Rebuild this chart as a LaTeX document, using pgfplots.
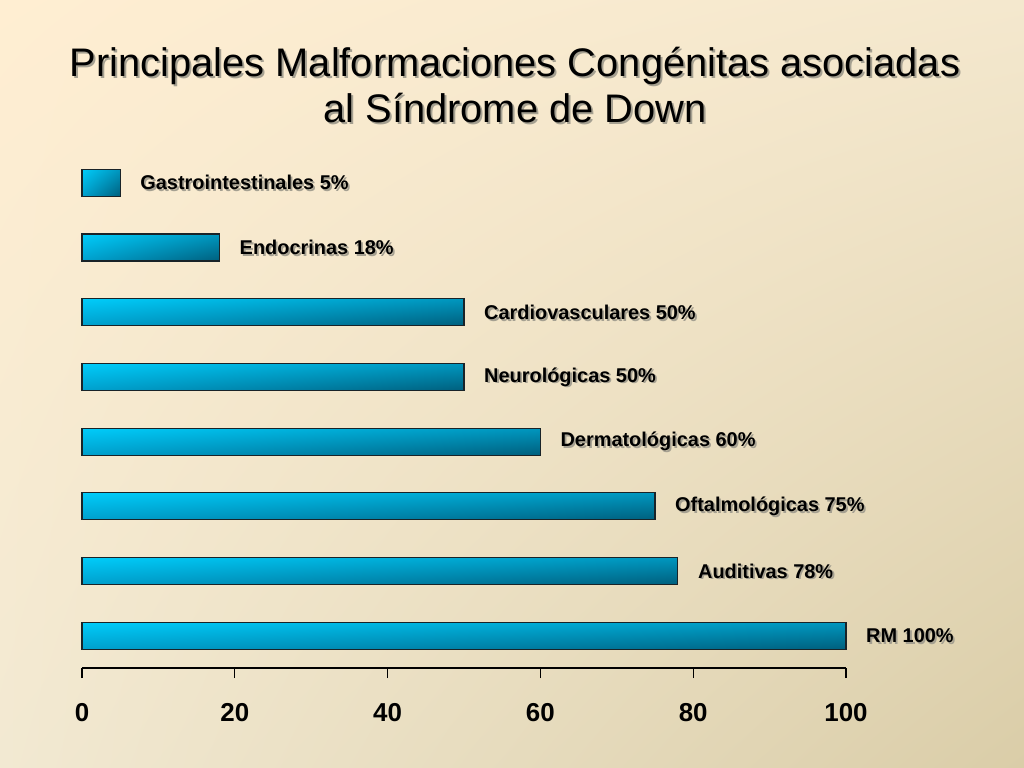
\documentclass[border=0pt]{standalone}
\usepackage{fontspec}
\setmainfont{Liberation Sans}
\usepackage{pgfplots}
\usepackage{pgfplotstable}
\pgfplotsset{compat=1.18}
\usetikzlibrary{shadings}
\definecolor{bgUL}{RGB}{255,238,210}
\definecolor{bgUR}{RGB}{244,232,206}
\definecolor{bgLL}{RGB}{242,233,210}
\definecolor{bgLR}{RGB}{218,205,168}
\definecolor{barUL}{RGB}{0,204,250}
\definecolor{barUR}{RGB}{0,150,190}
\definecolor{barLL}{RGB}{0,160,205}
\definecolor{barLR}{RGB}{0,95,125}
\definecolor{barEdge}{RGB}{25,35,40}
\definecolor{shadow}{RGB}{165,160,145}
\pgfplotstableread[col sep=comma]{
v,y,lab
100,0,RM 100\%
78,1,Auditivas 78\%
75,2,Oftalmológicas 75\%
60,3,Dermatológicas 60\%
50,4,Neurológicas 50\%
50,5,Cardiovasculares 50\%
18,6,Endocrinas 18\%
5,7,Gastrointestinales 5\%
}\data
\begin{document}
\begin{tikzpicture}
\shade[upper left=bgUL, upper right=bgUR, lower left=bgLL, lower right=bgLR] (0bp,0bp) rectangle (1024bp,768bp);
\node[font=\fontsize{40}{46}\selectfont, align=center, text=shadow] at (517bp,681bp) {Principales Malformaciones Congénitas asociadas\\al Síndrome de Down};
\node[font=\fontsize{40}{46}\selectfont, align=center, text=black] at (515bp,683bp) {Principales Malformaciones Congénitas asociadas\\al Síndrome de Down};
\begin{axis}[
  at={(82bp,100bp)}, anchor=south west,
  scale only axis, width=764bp, height=517.6bp,
  xmin=0, xmax=100, ymin=-0.5, ymax=7.5,
  axis x line=bottom, axis y line=none,
  x axis line style={-, black, line width=1.2bp},
  xtick={0,20,40,60,80,100},
  tick align=outside, major tick length=10bp,
  xtick style={black, line width=1.2bp},
  /pgf/number format/assume math mode=true,
  xticklabel style={font=\fontsize{26}{26}\selectfont\bfseries, yshift=-22bp},
  ytick=\empty,
  clip=false,
  point meta=explicit symbolic,
  every node near coord/.append style={anchor=west, inner sep=0pt, font=\fontsize{20}{20}\selectfont\bfseries},
  bar/.style={xbar, bar shift=0pt, bar width=27bp, draw=barEdge, line width=1.1bp,
    upper left=barUL, upper right=barUR, lower left=barLL, lower right=barLR},
]
\addplot[xbar, bar shift=0pt, bar width=27bp, draw=none, fill=none, nodes near coords,
  every node near coord/.append style={text=shadow, xshift=21.8bp, yshift=-1.8bp}]
  table[x=v, y=y, meta=lab] {\data};
\addplot[bar] coordinates {(100,0)};
\addplot[bar] coordinates {(78,1)};
\addplot[bar] coordinates {(75,2)};
\addplot[bar] coordinates {(60,3)};
\addplot[bar] coordinates {(50,4)};
\addplot[bar] coordinates {(50,5)};
\addplot[bar] coordinates {(18,6)};
\addplot[bar] coordinates {(5,7)};
\addplot[xbar, bar shift=0pt, bar width=27bp, draw=none, fill=none, nodes near coords,
  every node near coord/.append style={text=black, xshift=20bp}]
  table[x=v, y=y, meta=lab] {\data};
\end{axis}
\end{tikzpicture}
\end{document}
